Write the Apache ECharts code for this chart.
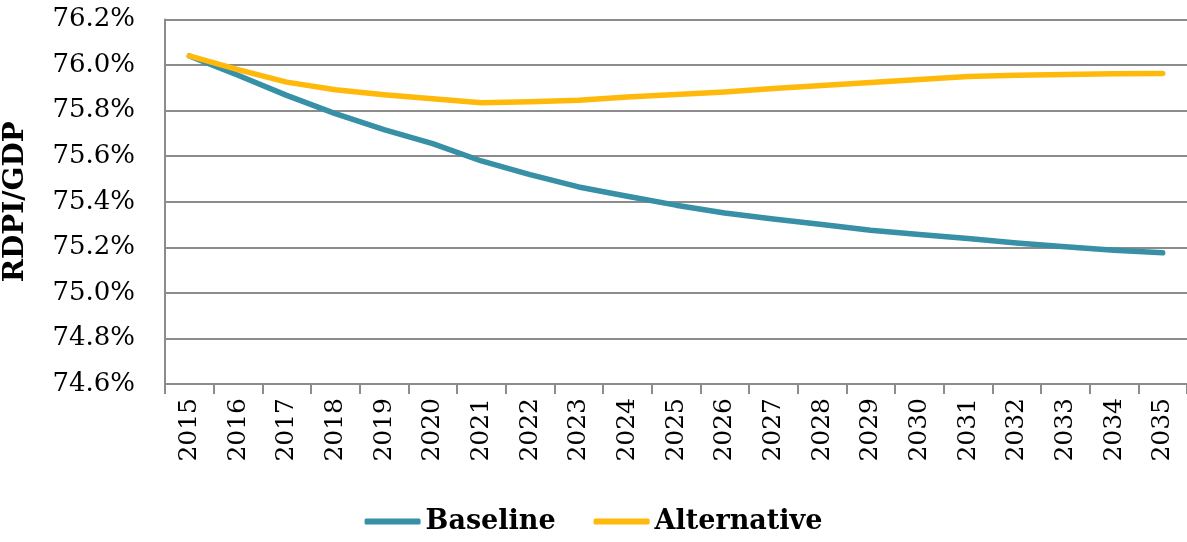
<!DOCTYPE html>
<html>
<head>
<meta charset="utf-8">
<script src="https://cdn.jsdelivr.net/npm/echarts@6/dist/echarts.min.js"></script>
<style>
html,body{margin:0;padding:0;background:#fff;}
#chart{width:1187px;height:542px;}
</style>
</head>
<body>
<div id="chart"></div>
<script>
const years = ['2015','2016','2017','2018','2019','2020','2021','2022','2023','2024','2025','2026','2027','2028','2029','2030','2031','2032','2033','2034','2035'];
const baseline = [76.04,75.955,75.867,75.787,75.717,75.655,75.579,75.519,75.465,75.424,75.385,75.351,75.324,75.300,75.275,75.256,75.239,75.219,75.202,75.187,75.176];
const alternative = [76.04,75.98,75.925,75.892,75.870,75.852,75.835,75.839,75.846,75.860,75.871,75.882,75.897,75.910,75.923,75.937,75.950,75.955,75.959,75.962,75.963];
const yMin = 74.6, yMax = 76.2, yStep = 0.2;

const font = 'DejaVu Serif';
const chart = echarts.init(document.getElementById('chart'));
chart.setOption({
  animation: false,
  backgroundColor: '#ffffff',
  grid: {left: 165, right: 0, top: 19.5, bottom: 158, containLabel: false, outerBoundsMode: 'none'},
  legend: {
    bottom: 2,
    left: 'center',
    itemWidth: 56,
    itemHeight: 6,
    itemGap: 38,
    icon: 'roundRect',
    textStyle: {fontFamily: font, fontWeight: 'bold', fontSize: 27, color: '#000'},
    data: ['Baseline', 'Alternative']
  },
  xAxis: {
    type: 'category',
    data: years,
    boundaryGap: true,
    axisLine: {lineStyle: {color: '#8c8c8c', width: 2}},
    axisTick: {show: true, length: 10, lineStyle: {color: '#8c8c8c', width: 2}},
    axisLabel: {rotate: 90, margin: 14, fontFamily: font, fontSize: 25, color: '#000', interval: 0}
  },
  yAxis: {
    type: 'value',
    min: yMin, max: yMax, interval: yStep,
    name: 'RDPI/GDP',
    nameLocation: 'middle',
    nameGap: 135,
    nameRotate: 90,
    nameTextStyle: {fontFamily: font, fontWeight: 'bold', fontSize: 28, color: '#000'},
    axisLine: {show: true, lineStyle: {color: '#8c8c8c', width: 2}},
    axisTick: {show: false},
    splitLine: {lineStyle: {color: '#8c8c8c', width: 2}},
    axisLabel: {margin: 30, fontFamily: font, fontSize: 26, color: '#000',
      formatter: v => v.toFixed(1) + '%'}
  },
  series: [
    {name: 'Baseline', type: 'line', data: baseline, showSymbol: false, symbol: 'none',
     lineStyle: {color: '#3790a6', width: 5.5, cap: 'round', join: 'round'}, itemStyle: {color: '#3790a6'}},
    {name: 'Alternative', type: 'line', data: alternative, showSymbol: false, symbol: 'none',
     lineStyle: {color: '#ffb90a', width: 5.5, cap: 'round', join: 'round'}, itemStyle: {color: '#ffb90a'}}
  ]
});
</script>
</body>
</html>
